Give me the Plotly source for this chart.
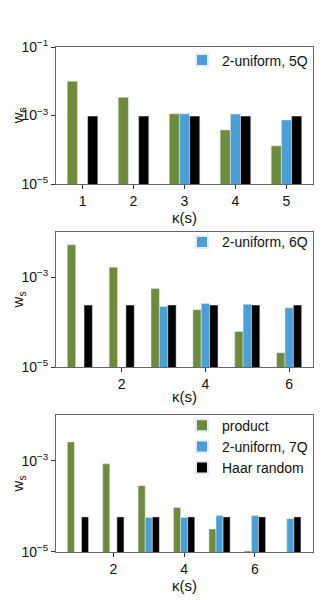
import plotly.graph_objects as go
from plotly.subplots import make_subplots

# panel 1: 5 qubits
k5 = [1, 2, 3, 4, 5]
product_5q = [1.0e-2, 3.4e-3, 1.12e-3, 3.8e-4, 1.3e-4]
uniform_5q = [None, None, 1.12e-3, 1.1e-3, 7.4e-4]
haar_5q = [9.6e-4, 9.6e-4, 9.6e-4, 9.6e-4, 9.6e-4]

# panel 2: 6 qubits
k6 = [1, 2, 3, 4, 5, 6]
product_6q = [5.2e-3, 1.66e-3, 5.6e-4, 1.9e-4, 6.2e-5, 2.1e-5]
uniform_6q = [None, None, 2.24e-4, 2.6e-4, 2.5e-4, 2.08e-4]
haar_6q = [2.4e-4, 2.4e-4, 2.4e-4, 2.4e-4, 2.4e-4, 2.4e-4]

# panel 3: 7 qubits
k7 = [1, 2, 3, 4, 5, 6, 7]
product_7q = [2.6e-3, 8.6e-4, 2.85e-4, 9.5e-5, 3.2e-5, 1.05e-5, None]
uniform_7q = [None, None, 5.7e-5, 5.7e-5, 6.3e-5, 6.3e-5, 5.4e-5]
haar_7q = [5.9e-5, 5.9e-5, 5.9e-5, 5.9e-5, 5.9e-5, 5.9e-5, 5.9e-5]

GREEN = '#6e8a3b'
BLUE = '#4a9fd6'
BLACK = '#000000'
FONT = 'Liberation Sans, Arial, sans-serif'

fig = make_subplots(rows=3, cols=1)

panels = [
    (k5, product_5q, uniform_5q, haar_5q, '2-uniform, 5Q', 'legend'),
    (k6, product_6q, uniform_6q, haar_6q, '2-uniform, 6Q', 'legend2'),
    (k7, product_7q, uniform_7q, haar_7q, '2-uniform, 7Q', 'legend3'),
]

for i, (k, prod, unif, haar, uname, leg) in enumerate(panels):
    row = i + 1
    last = row == 3
    fig.add_trace(go.Bar(x=k, y=prod, name='product', marker_color=GREEN,
                         showlegend=last, legend=leg), row=row, col=1)
    fig.add_trace(go.Bar(x=k, y=unif, name=uname, marker_color=BLUE,
                         showlegend=True, legend=leg), row=row, col=1)
    fig.add_trace(go.Bar(x=k, y=haar, name='Haar random', marker_color=BLACK,
                         showlegend=last, legend=leg), row=row, col=1)

domains = [[0.7287, 1.0], [0.3657, 0.6337], [0.0, 0.2707]]
xranges = [[0.48, 5.52], [0.43, 6.57], [0.38, 7.64]]
yranges = [[-5, -1], [-5, -2], [-5, -2]]
ytick_sets = [
    ([1e-5, 1e-3, 1e-1], ['10<sup>−5</sup>', '10<sup>−3</sup>', '10<sup>−1</sup>']),
    ([1e-5, 1e-3], ['10<sup>−5</sup>', '10<sup>−3</sup>']),
    ([1e-5, 1e-3], ['10<sup>−5</sup>', '10<sup>−3</sup>']),
]
xdticks = [1, 2, 2]

for i in range(3):
    n = '' if i == 0 else str(i + 1)
    fig.layout['xaxis' + n].update(
        range=xranges[i], dtick=xdticks[i], tick0=0, automargin=False,
        showline=True, mirror=True, linecolor='#666', linewidth=1,
        ticks='outside', ticklen=4, tickcolor='#333', showgrid=False,
        zeroline=False, tickfont=dict(size=14, color='#111'),
        title=dict(text='κ(s)', font=dict(size=15, color='#111'), standoff=0),
    )
    fig.layout['yaxis' + n].update(
        type='log', range=yranges[i], domain=domains[i], automargin=False,
        tickvals=ytick_sets[i][0], ticktext=ytick_sets[i][1],
        showline=True, mirror=True, linecolor='#666', linewidth=1,
        ticks='outside', ticklen=4, tickcolor='#333', showgrid=False,
        zeroline=False, tickfont=dict(size=14, color='#111'),
    )
    # y title as an annotation so it sits clear of the tick labels
    fig.add_annotation(
        text='w<sub>s</sub>', textangle=-90, showarrow=False,
        xref='paper', yref='paper', x=-0.145, xanchor='center',
        y=sum(domains[i]) / 2, yanchor='middle',
        font=dict(size=15, color='#111'),
    )

legend_style = dict(xanchor='right', x=1.0, yanchor='top', bgcolor='rgba(0,0,0,0)',
                    font=dict(size=14, color='#111'), tracegroupgap=0,
                    itemsizing='constant', traceorder='normal')

# the page body keeps its default 8px margin, so the figure is 8px smaller
fig.update_layout(
    width=322, height=592,
    margin=dict(l=48, r=17, t=39, b=48),
    barmode='group', bargap=0.4, bargroupgap=0,
    plot_bgcolor='white', paper_bgcolor='white',
    font=dict(family=FONT, size=14, color='#111'),
    legend=dict(y=1.005, **legend_style),
    legend2=dict(y=0.645, **legend_style),
    legend3=dict(y=0.282, **legend_style),
)

fig.write_html("out.html")
